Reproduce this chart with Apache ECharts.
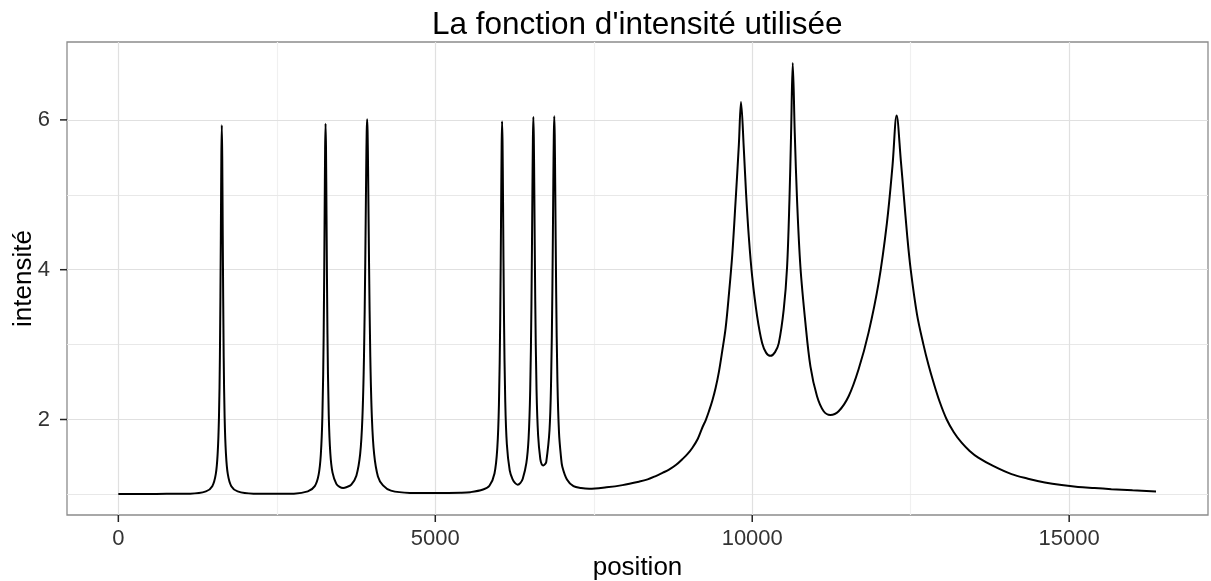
<!DOCTYPE html>
<html>
<head>
<meta charset="utf-8">
<script src="https://cdn.jsdelivr.net/npm/echarts@6/dist/echarts.min.js"></script>
<style>
html,body{margin:0;padding:0;background:#fff;}
#chart{width:1211px;height:581px;}
</style>
</head>
<body>
<div id="chart"></div>
<script>
// ---- data ----
const positions = [
  0, 600, 1132, 1382, 1482, 1537, 1567, 1587, 1602, 1617, 1625, 1632, 1639, 1647, 1662, 1677, 1697, 1727, 1782, 1882, 2132,
  2500, 2769, 2989, 3099, 3159, 3194, 3219, 3239, 3254, 3262, 3269, 3276, 3284, 3299, 3319, 3344, 3379, 3439, 3490, 3546, 3610,
  3675, 3755, 3815, 3850, 3875, 3895, 3910, 3918, 3925, 3932, 3940, 3955, 3975, 4000, 4035, 4095, 4175, 4300, 4600,
  5000, 5400, 5554, 5754, 5854, 5934, 5979, 6004, 6024, 6039, 6047, 6054, 6061, 6069, 6084, 6104, 6129, 6174, 6220, 6260, 6300,
  6340, 6380, 6437, 6472, 6497, 6517, 6532, 6540, 6547, 6554, 6562, 6577, 6597, 6622, 6657, 6680, 6704, 6728,
  6750, 6802, 6827, 6847, 6862, 6870, 6877, 6884, 6892, 6907, 6927, 6952, 6983, 7004, 7077, 7180, 7300, 7428,
  7700, 7953, 8215, 8350, 8478, 8590, 8687, 8800, 8897, 8980, 9054, 9140, 9212, 9270, 9317, 9370, 9422, 9475, 9526, 9580,
  9632, 9685, 9737, 9789, 9823,
  9868, 9904, 9946, 9999, 10077, 10156, 10220, 10288, 10360, 10419, 10497, 10550, 10587, 10613, 10639,
  10671, 10707, 10760, 10839, 10918, 11022, 11127, 11232, 11363, 11521, 11678, 11835, 11993, 12124, 12212, 12278,
  12345, 12390, 12445, 12500, 12600, 12701, 12780, 12858, 12960, 13068, 13180, 13303, 13430, 13566, 13800, 14091, 14350,
  14616, 14880, 15140, 15400, 15665, 16000, 16370
];
const intensities = [
  1.005, 1.007, 1.01, 1.04, 1.11, 1.27, 1.55, 2.02, 2.83, 4.46, 5.51, 5.93, 5.51, 4.46, 2.83, 2.02, 1.55, 1.27, 1.11, 1.04, 1.01,
  1.008, 1.01, 1.04, 1.11, 1.26, 1.53, 2.05, 3.12, 4.71, 5.61, 5.95, 5.62, 4.73, 3.14, 2.07, 1.55, 1.29, 1.14, 1.10, 1.085, 1.10,
  1.13, 1.25, 1.54, 2.02, 2.83, 4.08, 5.33, 5.84, 6.01, 5.84, 5.33, 4.08, 2.83, 2.02, 1.54, 1.24, 1.12, 1.05, 1.02,
  1.018, 1.022, 1.03, 1.065, 1.115, 1.28, 1.63, 2.2, 3.33, 4.87, 5.68, 5.98, 5.69, 4.89, 3.35, 2.23, 1.67, 1.32, 1.2, 1.15, 1.13,
  1.15, 1.21, 1.42, 1.75, 2.38, 3.55, 5.03, 5.75, 6.04, 5.77, 5.07, 3.58, 2.4, 1.79, 1.47, 1.40, 1.385, 1.40,
  1.43, 1.86, 2.52, 3.72, 5.16, 5.8, 6.05, 5.8, 5.13, 3.7, 2.5, 1.82, 1.5, 1.37, 1.2, 1.11, 1.085, 1.076,
  1.095, 1.124, 1.17, 1.2, 1.245, 1.29, 1.33, 1.395, 1.47, 1.54, 1.62, 1.74, 1.89, 2.0, 2.11, 2.25, 2.42, 2.64, 2.91, 3.22,
  3.67, 4.2, 4.91, 5.67, 6.24,
  5.6, 5.0, 4.44, 3.91, 3.38, 3.02, 2.89, 2.85, 2.9, 3.02, 3.47, 4.04, 4.93, 5.82, 6.76,
  5.82, 4.93, 4.04, 3.29, 2.71, 2.31, 2.11, 2.06, 2.11, 2.31, 2.67, 3.16, 3.82, 4.62, 5.38, 6.06,
  5.45, 5.0, 4.45, 4.0, 3.4, 3.0, 2.73, 2.5, 2.23, 2.0, 1.83, 1.69, 1.58, 1.49, 1.38, 1.27, 1.21,
  1.16, 1.125, 1.10, 1.085, 1.07, 1.055, 1.04
];
const xTicks = [0, 5000, 10000, 15000];
const xMinor = [2500, 7500, 12500];
const yTicks = [2, 4, 6];
const yMinor = [1, 3, 5];
const titleText = "La fonction d'intensité utilisée";
const xTitle = "position";
const yTitle = "intensité";

const X_MIN = -810, X_MAX = 17190, Y_MIN = 0.725, Y_MAX = 7.04;
const FONT = '"Liberation Sans", Arial, Helvetica, sans-serif';
const lineData = positions.map((p, i) => [p, intensities[i]]);

const gridLines = []
  .concat(xMinor.map(v => ({ xAxis: v, lineStyle: { color: '#f0f0f0', width: 1.2, type: 'solid' } })))
  .concat(yMinor.map(v => ({ yAxis: v, lineStyle: { color: '#e8e8e8', width: 1.2, type: 'solid' } })))
  .concat(xTicks.map(v => ({ xAxis: v, lineStyle: { color: '#e0e0e0', width: 1.2, type: 'solid' } })))
  .concat(yTicks.map(v => ({ yAxis: v, lineStyle: { color: '#e0e0e0', width: 1.2, type: 'solid' } })));

const chart = echarts.init(document.getElementById('chart'), null, { renderer: 'canvas' });
chart.setOption({
  animation: false,
  backgroundColor: '#ffffff',
  title: {
    text: titleText,
    left: 432,
    top: 9,
    padding: 0,
    textStyle: { fontFamily: FONT, fontSize: 31.5, fontWeight: 'normal', color: '#000' }
  },
  grid: {
    left: 67, right: 3, top: 42, bottom: 66,
    containLabel: false, outerBoundsMode: 'none',
    show: true, borderColor: '#8c8c8c', borderWidth: 1.3, backgroundColor: '#ffffff'
  },
  xAxis: {
    type: 'value', min: X_MIN, max: X_MAX,
    splitLine: { show: false },
    axisLine: { show: false, onZero: false },
    axisTick: { show: false },
    axisLabel: { customValues: xTicks, formatter: v => String(v), fontFamily: FONT, fontSize: 22, color: '#333', margin: 13 },
    name: xTitle, nameLocation: 'middle', nameGap: 40, nameMoveOverlap: false,
    nameTextStyle: { fontFamily: FONT, fontSize: 26, color: '#000' }
  },
  yAxis: {
    type: 'value', min: Y_MIN, max: Y_MAX,
    splitLine: { show: false },
    axisLine: { show: false, onZero: false },
    axisTick: { show: false },
    axisLabel: { customValues: yTicks, formatter: v => String(v), fontFamily: FONT, fontSize: 22, color: '#333', margin: 17 },
    name: yTitle, nameLocation: 'middle', nameGap: 30, nameMoveOverlap: false,
    nameTextStyle: { fontFamily: FONT, fontSize: 26, color: '#000' }
  },
  series: [
    {
      type: 'line', data: [], z: 1, silent: true,
      markLine: { silent: true, symbol: ['none', 'none'], z: 1, label: { show: false }, data: gridLines }
    },
    {
      type: 'line', data: lineData, z: 3, showSymbol: false, symbol: 'none', smooth: 0.35,
      lineStyle: { color: '#000', width: 2 }
    }
  ]
});

// tick marks: pixel positions come from the chart's own axis scales
function toPixel(pt) {
  let p = null;
  try { p = chart.convertToPixel({ seriesIndex: 1 }, pt); } catch (e) { p = null; }
  if (!p || !isFinite(p[0]) || !isFinite(p[1])) {
    try { p = chart.convertToPixel({ gridIndex: 0 }, pt); } catch (e) { p = null; }
  }
  if (!p || !isFinite(p[0]) || !isFinite(p[1])) {
    try {
      p = [chart.convertToPixel({ xAxisIndex: 0 }, pt[0]), chart.convertToPixel({ yAxisIndex: 0 }, pt[1])];
    } catch (e) { p = null; }
  }
  return (p && isFinite(p[0]) && isFinite(p[1])) ? p : null;
}
const TICK_LEN = 7;
const tickGraphics = [];
xTicks.forEach(v => {
  const p = toPixel([v, Y_MIN]);
  if (p) tickGraphics.push({
    type: 'line', silent: true, z: 100, zlevel: 1,
    shape: { x1: p[0], y1: p[1], x2: p[0], y2: p[1] + TICK_LEN },
    style: { stroke: '#222', lineWidth: 1.5 }
  });
});
yTicks.forEach(v => {
  const p = toPixel([X_MIN, v]);
  if (p) tickGraphics.push({
    type: 'line', silent: true, z: 100, zlevel: 1,
    shape: { x1: p[0], y1: p[1], x2: p[0] - TICK_LEN, y2: p[1] },
    style: { stroke: '#222', lineWidth: 1.5 }
  });
});
if (tickGraphics.length) {
  try { chart.setOption({ graphic: { elements: tickGraphics } }); } catch (e) { /* keep chart as is */ }
}
</script>
</body>
</html>
